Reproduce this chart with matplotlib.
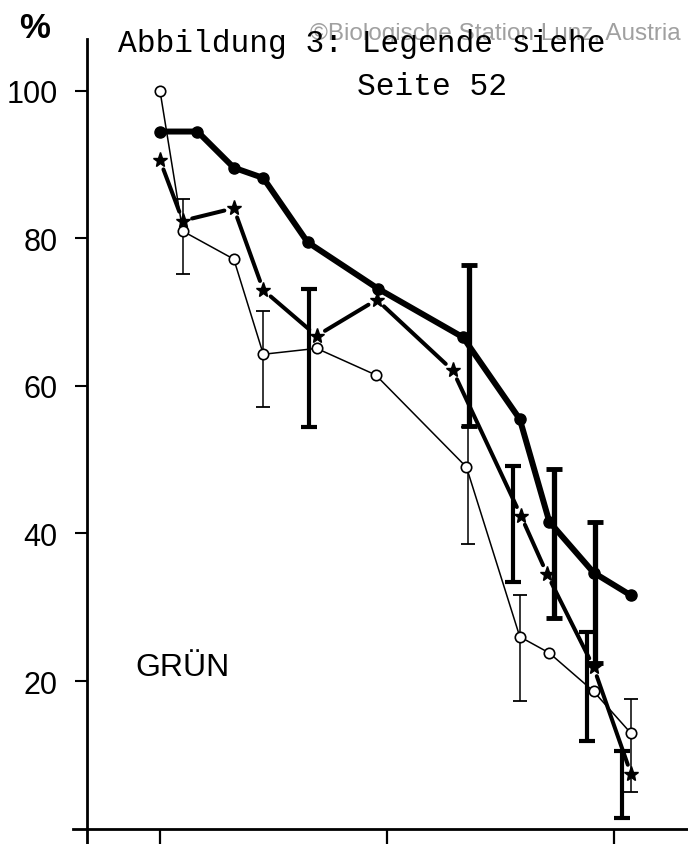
import numpy as np
import matplotlib
matplotlib.use("Agg")
import matplotlib.pyplot as plt

plt.rcParams['font.family'] = ['Liberation Sans', 'DejaVu Sans']

# filled circles, heavy solid line
X_FILLED = [0.0, 0.165, 0.325, 0.455, 0.65, 0.96, 1.335, 1.585, 1.715, 1.91, 2.075]
Y_FILLED = [94.5, 94.5, 89.6, 88.2, 79.5, 73.2, 66.6, 55.5, 41.6, 34.7, 31.6]

# stars, heavy broken line
X_STAR = [0.0, 0.10, 0.325, 0.455, 0.69, 0.955, 1.29, 1.59, 1.705, 1.91, 2.075]
Y_STAR = [90.6, 82.4, 84.1, 73.0, 66.8, 71.7, 62.1, 42.4, 34.5, 21.9, 7.4]

# open circles, thin line
X_OPEN = [0.0, 0.10, 0.325, 0.455, 0.69, 0.95, 1.35, 1.585, 1.715, 1.91, 2.075]
Y_OPEN = [100.0, 81.0, 77.2, 64.3, 65.1, 61.5, 49.0, 26.0, 23.8, 18.6, 12.9]

# error bars: position, lower end, upper end
BAR_OPEN_X = [0.10, 0.455, 1.355, 1.585, 2.075]
BAR_OPEN_LO = [75.2, 57.2, 38.6, 17.3, 5.0]
BAR_OPEN_HI = [85.3, 70.1, 54.4, 31.7, 17.5]

BAR_STAR_X = [0.655, 1.555, 1.88, 2.035]
BAR_STAR_LO = [54.5, 33.4, 11.8, 1.4]
BAR_STAR_HI = [73.1, 49.2, 26.7, 10.5]

BAR_FILLED_X = [1.36, 1.735, 1.915]
BAR_FILLED_LO = [54.6, 28.6, 22.5]
BAR_FILLED_HI = [76.4, 48.8, 41.5]

Y_TICKS = [20, 40, 60, 80, 100]
X_TICKS = [0, 1, 2]


def errbars(ax, xs, lo, hi, lw, cap, capw):
    lo, hi = np.asarray(lo), np.asarray(hi)
    ax.errorbar(xs, (lo + hi) / 2, yerr=(hi - lo) / 2, fmt='none', ecolor='black',
                elinewidth=lw, capsize=cap, capthick=capw, zorder=3)


fig = plt.figure(figsize=(6.88, 8.45), dpi=100)
ax = fig.add_axes([0, 0, 1, 1])
ax.set_xlim(-0.705, 2.326)
ax.set_ylim(-2.1, 112.47)

for s in ['top', 'right']:
    ax.spines[s].set_visible(False)
ax.spines['left'].set_position(('data', -0.32))
ax.spines['bottom'].set_position(('data', 0))
ax.spines['left'].set_bounds(-2.1, 107)
ax.spines['bottom'].set_bounds(-0.383, 2.326)
for s in ['left', 'bottom']:
    ax.spines[s].set_linewidth(2.0)

ax.set_yticks(Y_TICKS)
ax.set_yticklabels([str(v) for v in Y_TICKS])
ax.set_xticks(X_TICKS)
ax.set_xticklabels([])
ax.tick_params(axis='y', direction='out', length=8.5, width=1.5, pad=13, labelsize=22)
ax.tick_params(axis='x', direction='out', length=11, width=1.6)

# open circles
ax.plot(X_OPEN, Y_OPEN, '-', color='black', lw=1.1, zorder=2)
errbars(ax, BAR_OPEN_X, BAR_OPEN_LO, BAR_OPEN_HI, 1.1, 5, 1.3)

# stars: each segment stops short of the markers
for i in range(len(X_STAR) - 1):
    ax.annotate('', xy=(X_STAR[i + 1], Y_STAR[i + 1]), xytext=(X_STAR[i], Y_STAR[i]),
                arrowprops=dict(arrowstyle='-', lw=2.9, color='black',
                                shrinkA=7, shrinkB=7), zorder=4)
ax.plot(X_STAR, Y_STAR, linestyle='none', marker='*', ms=11, color='black', zorder=5)
errbars(ax, BAR_STAR_X, BAR_STAR_LO, BAR_STAR_HI, 3.0, 6, 3.0)

# filled circles
ax.plot(X_FILLED, Y_FILLED, '-', color='black', lw=4.3, marker='o', ms=8,
        solid_joinstyle='round', zorder=4)
errbars(ax, BAR_FILLED_X, BAR_FILLED_LO, BAR_FILLED_HI, 3.8, 6, 3.5)

ax.plot(X_OPEN, Y_OPEN, linestyle='none', marker='o', ms=7.5, mfc='white',
        mec='black', mew=1.2, zorder=6)

W, H = 688, 845
fig.text(35 / W, 1 - 28 / H, '%', ha='center', va='center', fontsize=25,
         fontweight='bold')
fig.text(310 / W, 1 - 40 / H, '\u00a9Biologische Station Lunz, Austria', fontsize=17.5,
         color='#a0a0a0', va='baseline', zorder=1)
fig.text(118 / W, 1 - 52 / H, 'Abbildung 3: Legende siehe', fontsize=22.5,
         va='baseline', family=['Liberation Mono'], zorder=5)
fig.text(357 / W, 1 - 95 / H, 'Seite 52', fontsize=22.5,
         va='baseline', family=['Liberation Mono'], zorder=5)
fig.text(135 / W, 1 - 676 / H, 'GRÜN', fontsize=23, va='baseline')

fig.savefig('out.png', dpi=100)
